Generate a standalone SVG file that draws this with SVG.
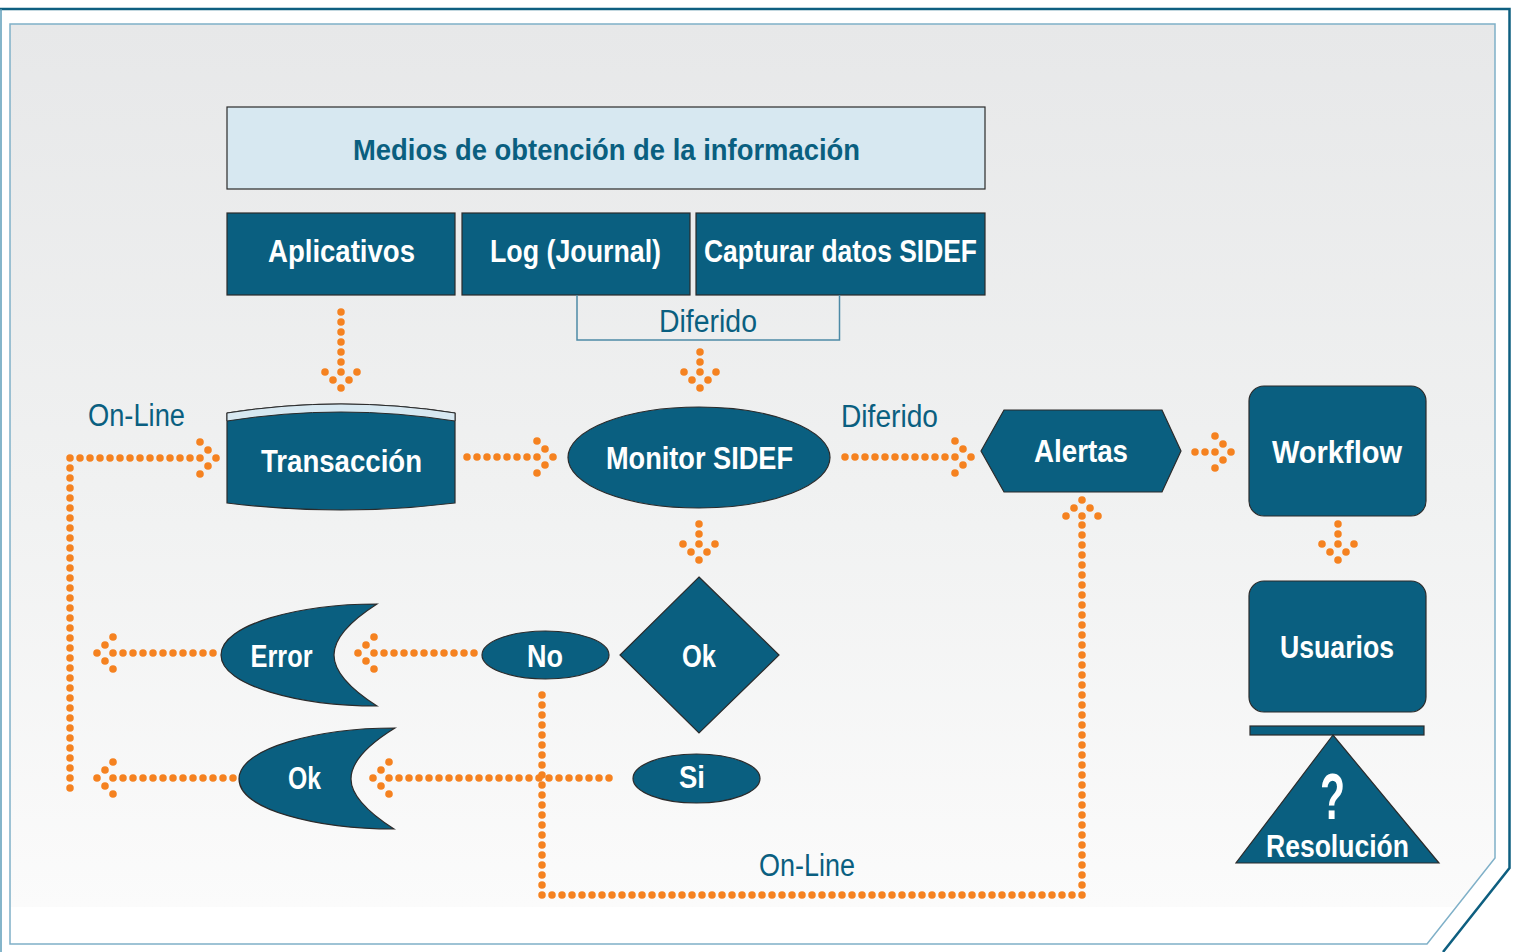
<svg xmlns="http://www.w3.org/2000/svg" width="1516" height="952" viewBox="0 0 1516 952">
  <defs>
    <linearGradient id="bg" x1="0" y1="0" x2="0" y2="1">
      <stop offset="0" stop-color="#e7e8e9"/>
      <stop offset="0.5" stop-color="#f0f1f1"/>
      <stop offset="0.96" stop-color="#fbfbfb"/>
      <stop offset="0.96" stop-color="#ffffff"/>
      <stop offset="1" stop-color="#ffffff"/>
    </linearGradient>
    <marker id="ah" markerUnits="userSpaceOnUse" markerWidth="44" markerHeight="44" viewBox="-22 -22 44 44" refX="0" refY="0" orient="auto" overflow="visible">
      <g fill="#f58220">
        <circle cx="16" cy="0" r="3.8"/>
        <circle cx="8" cy="-8" r="3.8"/>
        <circle cx="8" cy="8" r="3.8"/>
        <circle cx="0" cy="-16" r="3.8"/>
        <circle cx="0" cy="16" r="3.8"/>
        <circle cx="0" cy="0" r="3.8"/>
      </g>
    </marker>
    <style>
      .node { fill:#0a5f80; stroke:#2b2b2b; stroke-width:1.2; }
      .t { font-family:"Liberation Sans", Arial, sans-serif; font-weight:bold; fill:#ffffff; font-size:31px; text-anchor:middle; }
      .t32 { font-size:32px; }
      .q { font-size:64px; }
      .lbl { font-family:"Liberation Sans", Arial, sans-serif; fill:#0a5f80; font-size:31px; text-anchor:middle; }
      .dots { fill:none; stroke:#f58220; stroke-width:7.5; stroke-linecap:round; stroke-linejoin:round; stroke-dasharray:0 10; }
    </style>
  </defs>

  <!-- frame -->
  <rect x="0" y="0" width="1516" height="952" fill="#ffffff"/>
  <path d="M0,9 H1509.5 V868 L1443,952" fill="none" stroke="#0e5f80" stroke-width="2.5"/>
  <line x1="1" y1="9" x2="1" y2="952" stroke="#5c9cb8" stroke-width="1.5"/>
  <path d="M10,24 H1495 V858 L1427,944 H10 Z" fill="url(#bg)" stroke="#7fb0c8" stroke-width="1.5"/>

  <!-- header -->
  <g id="header">
    <rect x="227" y="107" width="758" height="82" fill="#d7e8f1" stroke="#2b2b2b" stroke-width="1.2"/>
    <text x="606.5" y="160" font-family="Liberation Sans, Arial, sans-serif" font-weight="bold" font-size="30" fill="#0a5f80" text-anchor="middle" textLength="507" lengthAdjust="spacingAndGlyphs">Medios de obtención de la información</text>
  </g>
  <g id="aplicativos">
    <rect class="node" x="227" y="213" width="228" height="82"/>
    <text class="t t32" x="341.5" y="262" textLength="147" lengthAdjust="spacingAndGlyphs">Aplicativos</text>
  </g>
  <g id="log">
    <rect class="node" x="462" y="213" width="228" height="82"/>
    <text class="t t32" x="575.5" y="262" textLength="171" lengthAdjust="spacingAndGlyphs">Log (Journal)</text>
  </g>
  <g id="capturar">
    <rect class="node" x="696" y="213" width="289" height="82"/>
    <text class="t t32" x="840.5" y="262" textLength="273" lengthAdjust="spacingAndGlyphs">Capturar datos SIDEF</text>
  </g>
  <g id="diferido-box">
    <path d="M577,295 V340 H839.5 V295" fill="none" stroke="#4d8aa6" stroke-width="1.5"/>
    <text class="lbl" x="708" y="332" textLength="98" lengthAdjust="spacingAndGlyphs">Diferido</text>
  </g>

  <!-- connectors -->
  <g id="connectors">
    <path class="dots" d="M341,312 V372" marker-end="url(#ah)"/>
    <path class="dots" d="M700,352 V372" marker-end="url(#ah)"/>
    <path class="dots" d="M699,524 V544" marker-end="url(#ah)"/>
    <path class="dots" d="M1338,524 V544" marker-end="url(#ah)"/>
    <path class="dots" d="M467,457 H537" marker-end="url(#ah)"/>
    <path class="dots" d="M845,457 H955" marker-end="url(#ah)"/>
    <path class="dots" d="M1195,452 H1215" marker-end="url(#ah)"/>
    <path class="dots" d="M70,788 V458 H200" marker-end="url(#ah)"/>
    <path class="dots" d="M474,653 H374" marker-end="url(#ah)"/>
    <path class="dots" d="M213,653 H113" marker-end="url(#ah)"/>
    <path class="dots" d="M609,778 H389" marker-end="url(#ah)"/>
    <path class="dots" d="M233,778 H113" marker-end="url(#ah)"/>
    <path class="dots" d="M542,695 V895 H1082 V516" marker-end="url(#ah)"/>
    <text class="lbl" x="136.5" y="426" textLength="97" lengthAdjust="spacingAndGlyphs">On-Line</text>
    <text class="lbl" x="889.5" y="427" textLength="97" lengthAdjust="spacingAndGlyphs">Diferido</text>
    <text class="lbl" x="807" y="876" textLength="96" lengthAdjust="spacingAndGlyphs">On-Line</text>
  </g>

  <!-- nodes -->
  <g id="transaccion">
    <path class="node" d="M227,413 Q341,395 455,413 L455,503 Q341,517 227,503 Z"/>
    <path d="M227,413 Q341,395 455,413 L455,421 Q341,403 227,421 Z" fill="#d7e8f1" stroke="#2b2b2b" stroke-width="1"/>
    <text class="t t32" x="341.5" y="472" textLength="161" lengthAdjust="spacingAndGlyphs">Transacción</text>
  </g>
  <g id="monitor">
    <ellipse class="node" cx="699" cy="457.5" rx="131" ry="50.5"/>
    <text class="t" x="699.5" y="469" textLength="187" lengthAdjust="spacingAndGlyphs">Monitor SIDEF</text>
  </g>
  <g id="alertas">
    <polygon class="node" points="981,451 1004,410 1162,410 1181,451 1162,492 1004,492"/>
    <text class="t" x="1081" y="462" textLength="94" lengthAdjust="spacingAndGlyphs">Alertas</text>
  </g>
  <g id="workflow">
    <rect class="node" x="1249" y="386" width="177" height="130" rx="15"/>
    <text class="t" x="1337" y="463" textLength="130" lengthAdjust="spacingAndGlyphs">Workflow</text>
  </g>
  <g id="usuarios">
    <rect class="node" x="1249" y="581" width="177" height="131" rx="15"/>
    <text class="t" x="1337" y="658" textLength="114" lengthAdjust="spacingAndGlyphs">Usuarios</text>
  </g>
  <g id="resolucion">
    <rect class="node" x="1250" y="726" width="174" height="9"/>
    <polygon class="node" points="1333,735 1236,863 1439,863"/>
    <text class="t q" x="1332.5" y="819" textLength="25" lengthAdjust="spacingAndGlyphs">?</text>
    <text class="t" x="1337.5" y="857" textLength="143" lengthAdjust="spacingAndGlyphs">Resolución</text>
  </g>
  <g id="ok-decision">
    <polygon class="node" points="699,577 779,655 699,733 620,655"/>
    <text class="t" x="699" y="667" textLength="34" lengthAdjust="spacingAndGlyphs">Ok</text>
  </g>
  <g id="no">
    <ellipse class="node" cx="545.5" cy="655" rx="63.5" ry="24"/>
    <text class="t" x="545" y="667" textLength="36" lengthAdjust="spacingAndGlyphs">No</text>
  </g>
  <g id="si">
    <ellipse class="node" cx="696.5" cy="778.5" rx="63.5" ry="24.5"/>
    <text class="t" x="692" y="788" textLength="26" lengthAdjust="spacingAndGlyphs">Si</text>
  </g>
  <g id="error">
    <path class="node" d="M377,604 C300,604 221,624 221,655 C221,686 300,706 377,706 C352,690 334,672 334,655 C334,638 352,620 377,604 Z"/>
    <text class="t" x="281.5" y="667" textLength="62" lengthAdjust="spacingAndGlyphs">Error</text>
  </g>
  <g id="ok-result">
    <path class="node" d="M395,728 C318,728 239,748 239,779 C239,810 318,829 394,829 C369,813 351,796 351,779 C351,762 369,744 395,728 Z"/>
    <text class="t" x="304.5" y="789" textLength="33" lengthAdjust="spacingAndGlyphs">Ok</text>
  </g>
</svg>
